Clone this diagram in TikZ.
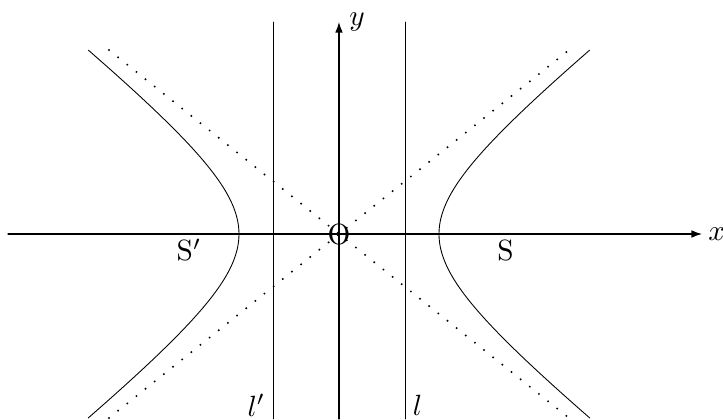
\documentclass[tikz,border=0pt]{standalone}
\usepackage{amsmath, amssymb}
\usepackage{tikz}
\usetikzlibrary{arrows.meta}

\begin{document}
\begin{tikzpicture}[>={Latex[length=3.6pt,width=2.6pt]}, line cap=round, line join=round, scale=.6,
    asint/.style={line width=.75pt, dash pattern=on 0pt off 4pt},
    ramo/.style={line width=.3pt},
    dirett/.style={line width=.3pt}]
\useasboundingbox (-6.78,-3.70) rectangle (7.68,4.68);

% Assi
\coordinate (xs) at (-6.62,0);
\coordinate (xe) at (7.26,0);
\coordinate (ys) at (0,-3.7);
\coordinate (ye) at (0,4.24);
\draw[->] (xs) -- (xe);
\draw[->] (ys) -- (ye);
\node[right, inner sep=2pt] (xlab) at (xe) {$x$};
\node[right] (ylab) at (ye) {$y$};

% Origine
\node (O) at (0,0) {O};

% Direttrici
\coordinate (lpb) at (-1.32,-3.7);
\coordinate (lpt) at (-1.32,4.24);
\coordinate (lb) at (1.32,-3.7);
\coordinate (lt) at (1.32,4.24);
\draw[dirett] (lpb) -- (lpt);
\draw[dirett] (lb) -- (lt);
\node[left, inner sep=2.5pt] (lplab) at (-1.32,-3.42) {$l'$};
\node[right, inner sep=2.5pt] (llab) at (1.32,-3.42) {$l$};

% Asintoti
\coordinate (a1) at (-4.6,3.68);
\coordinate (a2) at (4.6,-3.68);
\coordinate (a3) at (-4.6,-3.68);
\coordinate (a4) at (4.6,3.68);
\draw[asint] (a1) -- (a2);
\draw[asint] (a3) -- (a4);

% Iperbole
\draw[ramo] plot[domain=-1.57:1.57, samples=80] ({2*cosh(\x)},{1.6*sinh(\x)});
\draw[ramo] plot[domain=-1.57:1.57, samples=80] ({-2*cosh(\x)},{1.6*sinh(\x)});

% Fuochi
\node (S) at (3.33,-0.33) {S};
\node (Sp) at (-3.0,-0.32) {S$'$};

\end{tikzpicture}
\end{document}
